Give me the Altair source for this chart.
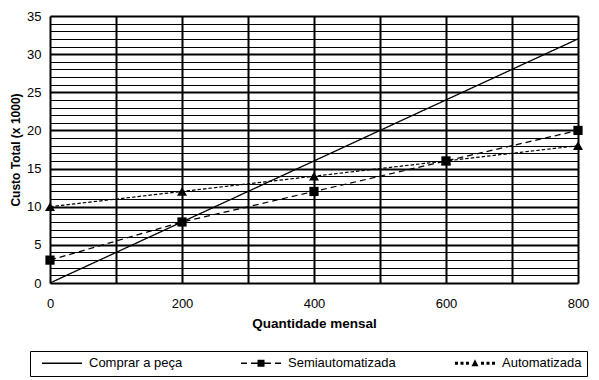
import altair as alt
import pandas as pd

# ---- data ----
series_names = ["Comprar a peça", "Semiautomatizada", "Automatizada"]
comprar_qtd = [0, 800]
comprar_custo = [0, 32]
semi_qtd = [0, 200, 400, 600, 800]
semi_custo = [3, 8, 12, 16, 20]
auto_qtd = [0, 200, 400, 600, 800]
auto_custo = [10, 12, 14, 16, 18]

x_ticks = list(range(0, 801, 100))
y_ticks = list(range(0, 36))

rows = []
for name, xs, ys in zip(series_names,
                        [comprar_qtd, semi_qtd, auto_qtd],
                        [comprar_custo, semi_custo, auto_custo]):
    for q, c in zip(xs, ys):
        rows.append({"serie": name, "qtd": q, "custo": c})
df = pd.DataFrame(rows)

FONT = "Liberation Sans"

# legend symbols: line + marker drawn as custom paths (units = 6 px)
legend_paths = [
    "M0,-0.11H6.67V0.11H0Z",
    ("M0,-0.12H1V0.12H0Z M1.67,-0.12H2.75V0.12H1.67Z "
     "M2.75,-0.58H3.92V0.58H2.75Z M3.92,-0.12H5V0.12H3.92Z "
     "M5.67,-0.12H6.67V0.12H5.67Z"),
    ("M0,-0.27H0.5V0.27H0Z M0.92,-0.27H1.42V0.27H0.92Z M1.83,-0.27H2.33V0.27H1.83Z "
     "M2.75,0.5L3.33,-0.67L3.92,0.5Z "
     "M4.33,-0.27H4.83V0.27H4.33Z M5.25,-0.27H5.75V0.27H5.25Z M6.17,-0.27H6.67V0.27H6.17Z"),
]

x_enc = alt.X(
    "qtd:Q",
    scale=alt.Scale(domain=[0, 800], nice=False),
    axis=alt.Axis(
        values=x_ticks,
        labelExpr="datum.value % 200 === 0 ? datum.label : ''",
        grid=True, gridColor="black", gridWidth=2,
        ticks=False, domain=False, labelOverlap=False, labelFlush=False,
        labelPadding=14, labelFont=FONT, labelFontSize=13, labelColor="black",
        title="Quantidade mensal", titleFont=FONT, titleFontSize=13.5,
        titleFontWeight="bold", titleColor="black", titlePadding=6,
    ),
)
y_enc = alt.Y(
    "custo:Q",
    scale=alt.Scale(domain=[0, 35], nice=False),
    axis=alt.Axis(
        values=y_ticks,
        labelExpr="datum.value % 5 === 0 ? datum.label : ''",
        grid=True, gridColor="black",
        gridWidth={"condition": {"test": "datum.value % 5 === 0", "value": 2}, "value": 1},
        ticks=False, domain=False, labelOverlap=False, labelFlush=False,
        labelPadding=9, labelFont=FONT, labelFontSize=13, labelColor="black",
        title="Custo Total (x 1000)", titleFont=FONT, titleFontSize=12,
        titleFontWeight="bold", titleColor="black", titlePadding=4,
    ),
)

lines = alt.Chart(df).mark_line(color="black", strokeCap="butt").encode(
    x=x_enc, y=y_enc,
    strokeDash=alt.StrokeDash("serie:N", scale=alt.Scale(domain=series_names,
                              range=[[1, 0], [6, 4], [3.5, 2]]), legend=None),
    strokeWidth=alt.StrokeWidth("serie:N", scale=alt.Scale(domain=series_names,
                                range=[1.3, 1.2, 3.6]), legend=None),
)

points = alt.Chart(df).transform_filter(
    alt.datum.serie != series_names[0]
).mark_point(filled=True, color="black", opacity=1).encode(
    x=x_enc, y=y_enc,
    shape=alt.Shape("serie:N", scale=alt.Scale(domain=series_names[1:],
                    range=["square", "triangle-up"]), legend=None),
    size=alt.Size("serie:N", scale=alt.Scale(domain=series_names[1:],
                  range=[85, 100]), legend=None),
)

legend_layer = alt.Chart(df).transform_filter("false").mark_point(
    filled=True, color="black"
).encode(
    x=x_enc, y=y_enc,
    shape=alt.Shape("serie:N", scale=alt.Scale(domain=series_names, range=legend_paths),
                    legend=alt.Legend(
                        title=None, orient="none", legendX=-20, legendY=335,
                        direction="horizontal", columns=3,
                        strokeColor="black", fillColor="white", padding=5.5,
                        symbolSize=144, symbolFillColor="black",
                        symbolStrokeWidth=0, symbolOpacity=1,
                        labelOffset=40.5, columnPadding=52,
                        labelFont=FONT, labelFontSize=13, labelColor="black",
                    )),
)

chart = alt.layer(lines, points, legend_layer).resolve_scale(
    shape="independent", size="independent"
).properties(
    width=528, height=267,
    padding={"left": 42, "top": 8, "right": 12, "bottom": 95},
    autosize=alt.AutoSizeParams(type="none"),
).configure_view(
    stroke="black", strokeWidth=2
).configure(background="white")

chart.save("out.html", embed_options={"renderer": "svg", "actions": False})
